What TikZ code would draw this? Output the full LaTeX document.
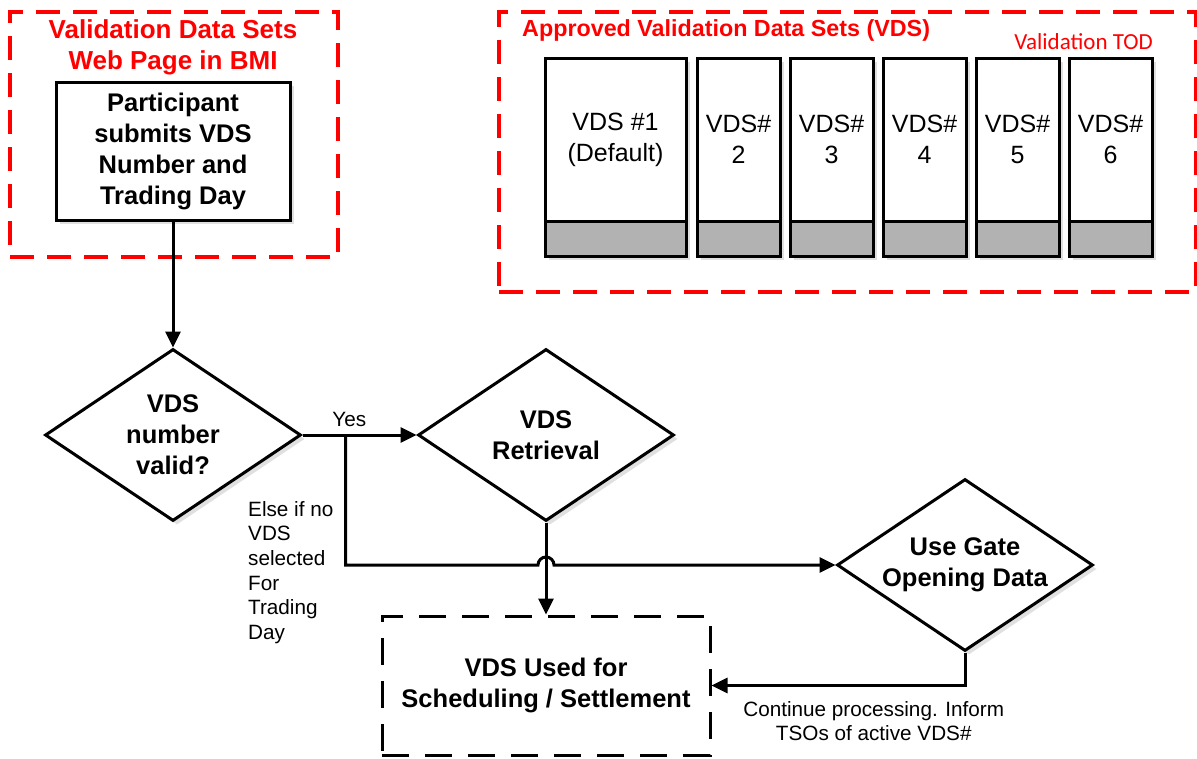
\documentclass[tikz,border=0pt]{standalone}
\usepackage{fontspec}
\setmainfont{Liberation Sans}
\newfontfamily\todfont{Carlito}
\usetikzlibrary{arrows.meta,positioning,shapes.geometric,shadows}

\definecolor{bmired}{RGB}{255,0,0}
\definecolor{basegray}{RGB}{178,178,178}

\tikzset{
	shade box/.style = {drop shadow = {shadow xshift = 4pt, shadow yshift = -4pt, fill = black!12, opacity = 1}},
	proc/.style = {draw, line width = 3pt, fill = white, align = center, inner sep = 0pt,
		font = \fontsize{25.5}{31}\selectfont\bfseries, shade box},
	choice/.style = {proc, diamond, aspect = 1.5, minimum width = 256pt, minimum height = 172pt},
	usedbox/.style = {draw, line width = 3pt, dash pattern = on 27pt off 16pt, align = center,
		minimum width = 328pt, minimum height = 139pt, font = \fontsize{25.5}{31}\selectfont\bfseries},
	redframe/.style = {draw = bmired, line width = 3.5pt, dash pattern = on 24pt off 13pt},
	redtitle/.style = {text = bmired, align = center, inner sep = 0pt, font = \fontsize{26}{31}\selectfont\bfseries},
	vds/.style = {draw, line width = 3pt, fill = white, align = center, inner sep = 0pt,
		minimum width = 83pt, minimum height = 163pt, font = \fontsize{25}{31}\selectfont, shade box},
	vdsbase/.style = {draw, line width = 3pt, fill = basegray, minimum width = 83pt, minimum height = 35pt, shade box},
	lbl/.style = {inner sep = 0pt, font = \fontsize{20.7}{24.6}\selectfont},
	flow/.style = {draw, line width = 3pt, -{Triangle[length = 16pt, width = 15pt]}}
}

\begin{document}
\begin{tikzpicture}[x = 1pt, y = -1pt, on grid]
	\useasboundingbox (0,0) rectangle (1197,758);

	% web page in BMI
	\node[redframe, minimum width = 328pt, minimum height = 245pt] (web) at (174,134.5) {};
	\node[redtitle] (webtitle) at (173,47) {Validation Data Sets\\Web Page in BMI};
	\node[proc, minimum width = 234pt, minimum height = 138pt] (part) at (173,151) {Participant\\submits VDS\\Number and\\Trading Day};

	% approved data sets
	\node[redframe, minimum width = 697pt, minimum height = 280pt] (appr) at (847.5,152) {};
	\node[redtitle, font = \fontsize{23.3}{28}\selectfont\bfseries, anchor = west] (apprtitle) at (522,30) {Approved Validation Data Sets (VDS)};
	\node[text = bmired, inner sep = 0pt, font = \fontsize{23}{28}\todfont, anchor = east] (tod) at (1153,42) {Validation TOD};
	\node[vds, minimum width = 141pt] (v1) at (615.5,139.5) {VDS \#1\\(Default)};
	\node[vds] (v2) [right = 123pt of v1] {VDS\#\\2};
	\node[vds] (v3) [right = 93pt of v2] {VDS\#\\3};
	\node[vds] (v4) [right = 93pt of v3] {VDS\#\\4};
	\node[vds] (v5) [right = 93pt of v4] {VDS\#\\5};
	\node[vds] (v6) [right = 93pt of v5] {VDS\#\\6};
	\node[vdsbase, minimum width = 141pt] (b1) [below = 99pt of v1] {};
	\node[vdsbase] (b2) [below = 99pt of v2] {};
	\node[vdsbase] (b3) [below = 99pt of v3] {};
	\node[vdsbase] (b4) [below = 99pt of v4] {};
	\node[vdsbase] (b5) [below = 99pt of v5] {};
	\node[vdsbase] (b6) [below = 99pt of v6] {};

	% decisions
	\node[choice] (valid) [below = 284pt of part] {VDS\\number\\valid?};
	\node[choice] (retr) [right = 373pt of valid] {VDS\\Retrieval};
	\node[choice] (gate) [below right = 130pt and 419pt of retr] {Use Gate\\Opening Data};
	\node[usedbox] (used) [below = 250.5pt of retr] {VDS Used for\\Scheduling / Settlement};
	\coordinate (split) at ([xshift = 43pt]valid.east);
	\node[lbl, align = left, anchor = north west] (nosel) at (248,501) {Else if no\\VDS\\selected\\For\\Trading\\Day};

	% connectors
	\path[flow] (part) -- (valid);
	\path[flow] (valid) -- node[lbl, above = 7pt, pos = 0.41] (yes) {Yes} (retr);
	\path[flow] (split) |- ([xshift = -8pt]retr.south |- gate.west) arc (180:0:8pt) -- (gate);
	\path[flow] (retr) -- (used);
	\path[flow] (gate) |- node[lbl, below = 14pt, pos = 0.68, align = center] (inform) {Continue processing. Inform\\TSOs of active VDS\#} (used);
\end{tikzpicture}
\end{document}
